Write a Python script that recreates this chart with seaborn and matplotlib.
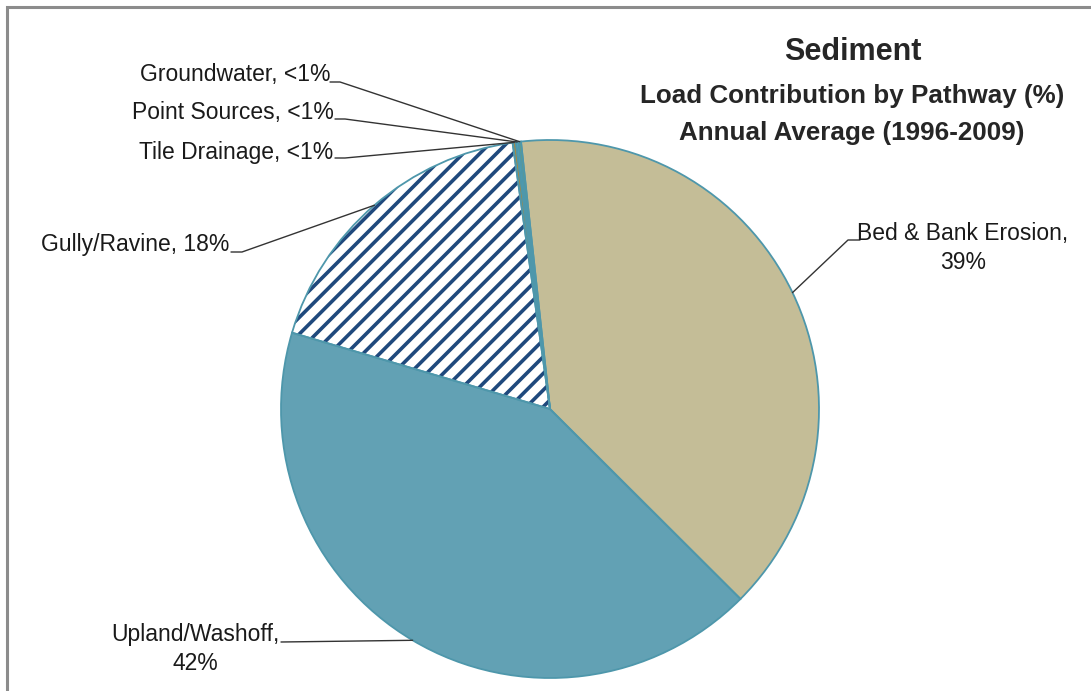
import numpy as np
import matplotlib
matplotlib.use("Agg")
import matplotlib.pyplot as plt
import seaborn as sns
from matplotlib.patches import Rectangle
from matplotlib.lines import Line2D
from matplotlib import font_manager

# ---- data ----
categories = ["Bed & Bank Erosion", "Upland/Washoff", "Gully/Ravine",
              "Tile Drainage", "Point Sources", "Groundwater"]
values = [39.2, 42.1, 18.2, 0.2, 0.15, 0.15]
label_texts = ["Bed & Bank Erosion,\n39%", "Upland/Washoff,\n42%", "Gully/Ravine, 18%",
               "Tile Drainage, <1%", "Point Sources, <1%", "Groundwater, <1%"]
title_lines = ["Sediment", "Load Contribution by Pathway (%)", "Annual Average (1996-2009)"]

sns.set_theme(style="white")
names = {f.name for f in font_manager.fontManager.ttflist}
fam = [f for f in ["Liberation Sans Narrow", "Liberation Sans", "DejaVu Sans"] if f in names]
plt.rcParams['font.family'] = fam
plt.rcParams['hatch.linewidth'] = 2.6

W, H = 1091, 691
fig = plt.figure(figsize=(W / 100, H / 100), dpi=100)
fig.patch.set_facecolor("white")

def fp(x, y):
    return (x / W, 1 - y / H)

cx, cy, r = 550, 409, 269
ax = fig.add_axes([(cx - r) / W, 1 - (cy + r) / H, 2 * r / W, 2 * r / H])
ax.set_axis_off()

colors = ["#C4BD97", "#62A1B4", "white", "#9C8A4C", "#4BACC6", "#7F9F5A"]
edge = "#4E97AB"

wedges, _ = ax.pie(values, colors=colors, startangle=96.2, counterclock=False,
                   wedgeprops=dict(linewidth=0, edgecolor="#1F497D"))
wedges[2].set_hatch("//")
wedges[2].set_edgecolor("#1F497D")
wedges[2].set_linewidth(0)
ax.pie(values, colors=["none"] * len(values), startangle=96.2, counterclock=False,
       wedgeprops=dict(linewidth=1.3, edgecolor=edge, fill=False))
ax.set_xlim(-1, 1)
ax.set_ylim(-1, 1)
ax.set_aspect("equal")

# label layout (text anchor, elbow points) in image pixels
text_pos = {
    0: dict(xy=(963, 248), ha="center", elbow=[(848, 240), (860, 240)]),
    1: dict(xy=(195, 649), ha="center", elbow=[(281, 642)]),
    2: dict(xy=(229, 245), ha="right", elbow=[(242, 252), (231, 252)]),
    3: dict(xy=(333, 153), ha="right", elbow=[(345, 158), (335, 158)]),
    4: dict(xy=(334, 112), ha="right", elbow=[(345, 119), (335, 119)]),
    5: dict(xy=(330, 74), ha="right", elbow=[(340, 82), (330, 82)]),
}

inv = fig.transFigure.inverted()
for i, w in enumerate(wedges):
    th = np.deg2rad((w.theta1 + w.theta2) / 2)
    ex, ey = np.cos(th), np.sin(th)
    pt = inv.transform(ax.transData.transform((ex, ey)))
    info = text_pos[i]
    xs = [pt[0]] + [fp(*p)[0] for p in info["elbow"]]
    ys = [pt[1]] + [fp(*p)[1] for p in info["elbow"]]
    fig.add_artist(Line2D(xs, ys, color="#333333", lw=1.0, transform=fig.transFigure))
    tx, ty = fp(*info["xy"])
    fig.text(tx, ty, label_texts[i], ha=info["ha"], va="center", fontsize=16.5,
             color="#1a1a1a", linespacing=1.35, multialignment="center")

fig.text(*fp(853, 52), title_lines[0], ha="center", va="center", fontsize=22, fontweight="bold")
fig.text(*fp(852, 96), title_lines[1], ha="center", va="center", fontsize=18.7, fontweight="bold")
fig.text(*fp(852, 133), title_lines[2], ha="center", va="center", fontsize=18.7, fontweight="bold")

fig.add_artist(Rectangle(fp(7, H + 20), (W + 20) / W, (H + 13) / H, fill=False,
                         edgecolor="#8C8C8C", lw=2.2, transform=fig.transFigure))

fig.savefig("out.png", dpi=100, facecolor="white")
